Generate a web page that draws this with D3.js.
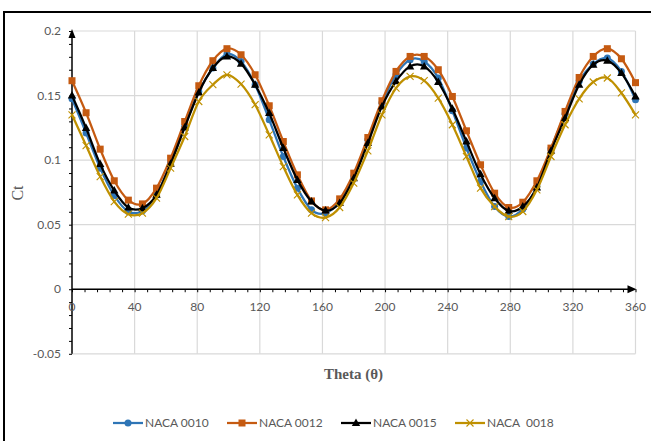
<!DOCTYPE html>
<html>
<head>
<meta charset="utf-8">
<script src="https://cdn.jsdelivr.net/npm/d3@7"></script>
<style>
  html, body { margin: 0; padding: 0; background: #ffffff; }
  svg { display: block; }
</style>
</head>
<body>
<svg id="chart" width="651" height="441"></svg>
<script>
// ---------- data ----------
const theta = [0, 9, 18, 27, 36, 45, 54, 63, 72, 81, 90, 99, 108, 117, 126, 135, 144, 153, 162, 171,
               180, 189, 198, 207, 216, 225, 234, 243, 252, 261, 270, 279, 288, 297, 306, 315, 324, 333, 342, 351, 360];

const naca0010 = [0.1475, 0.1210, 0.0938, 0.0726, 0.0602, 0.0607, 0.0730, 0.0977, 0.1260, 0.1532,
                  0.1713, 0.1822, 0.1764, 0.1584, 0.1312, 0.1028, 0.0783, 0.0615, 0.0589, 0.0680,
                  0.0873, 0.1157, 0.1442, 0.1661, 0.1778, 0.1764, 0.1636, 0.1382, 0.1093, 0.0834,
                  0.0640, 0.0563, 0.0622, 0.0795, 0.1088, 0.1357, 0.1610, 0.1744, 0.1790, 0.1687, 0.1467];

const naca0012 = [0.1615, 0.1367, 0.1085, 0.0840, 0.0690, 0.0661, 0.0783, 0.1015, 0.1299, 0.1576,
                  0.1770, 0.1863, 0.1816, 0.1661, 0.1421, 0.1144, 0.0886, 0.0684, 0.0615, 0.0700,
                  0.0899, 0.1175, 0.1460, 0.1687, 0.1803, 0.1803, 0.1700, 0.1493, 0.1227, 0.0964,
                  0.0744, 0.0633, 0.0674, 0.0840, 0.1093, 0.1377, 0.1640, 0.1803, 0.1863, 0.1785, 0.1600];

const naca0015 = [0.1500, 0.1248, 0.0969, 0.0764, 0.0633, 0.0628, 0.0731, 0.0971, 0.1253, 0.1524,
                  0.1713, 0.1803, 0.1747, 0.1584, 0.1364, 0.1093, 0.0847, 0.0679, 0.0609, 0.0667,
                  0.0860, 0.1132, 0.1416, 0.1610, 0.1726, 0.1726, 0.1605, 0.1398, 0.1144, 0.0891,
                  0.0705, 0.0607, 0.0640, 0.0788, 0.1072, 0.1326, 0.1584, 0.1739, 0.1770, 0.1674, 0.1493];

const naca0018 = [0.1351, 0.1113, 0.0873, 0.0679, 0.0581, 0.0589, 0.0705, 0.0938, 0.1183, 0.1454,
                  0.1584, 0.1661, 0.1589, 0.1429, 0.1196, 0.0950, 0.0731, 0.0589, 0.0555, 0.0633,
                  0.0822, 0.1072, 0.1351, 0.1558, 0.1648, 0.1615, 0.1480, 0.1274, 0.1028, 0.0783,
                  0.0640, 0.0563, 0.0602, 0.0770, 0.1028, 0.1274, 0.1475, 0.1605, 0.1636, 0.1520, 0.1351];

const seriesNames = ["NACA 0010", "NACA 0012", "NACA 0015", "NACA  0018"];
const xTicks = [0, 40, 80, 120, 160, 200, 240, 280, 320, 360];
const yTicks = [-0.05, 0, 0.05, 0.1, 0.15, 0.2];
const yTickLabels = ["-0.05", "0", "0.05", "0.1", "0.15", "0.2"];
const xTitle = "Theta (θ)";
const yTitle = "Ct";

// ---------- styles ----------
const colors = ["#2E75B6", "#C55A11", "#000000", "#BF9000"];
const markerTypes = ["circle", "square", "triangle", "cross"];
const labelFont = "Lato, 'Liberation Sans', sans-serif";
const serifFont = "'Liberation Serif', 'DejaVu Serif', serif";
const textGrey = "#595959";

const svg = d3.select("#chart");

// outer border (chart area edge)
svg.append("rect")
  .attr("x", 4).attr("y", 12)
  .attr("width", 660).attr("height", 440)
  .attr("fill", "none").attr("stroke", "#000").attr("stroke-width", 2);

const x = d3.scaleLinear().domain([0, 360]).range([72, 635.5]);
const y = d3.scaleLinear().domain([-0.05, 0.2]).range([353.8, 31]);

// gridlines
const grid = svg.append("g");
grid.selectAll("line.v").data(xTicks.filter(d => d > 0)).enter().append("line")
  .attr("x1", d => x(d)).attr("x2", d => x(d))
  .attr("y1", y(0.2)).attr("y2", y(-0.05))
  .attr("stroke", "#d9d9d9").attr("stroke-width", 1.2);
grid.selectAll("line.h").data(yTicks).enter().append("line")
  .attr("x1", x(0)).attr("x2", x(360))
  .attr("y1", d => y(d)).attr("y2", d => y(d))
  .attr("stroke", "#d9d9d9").attr("stroke-width", 1.2);

// y axis (vertical line at x=0) with minor ticks
const yAxis = d3.axisLeft(y).tickValues(d3.range(-5, 21).map(i => i / 100)).tickSize(3).tickFormat("");
const gy = svg.append("g").attr("transform", `translate(${x(0)},0)`).call(yAxis);
gy.select(".domain").remove();
gy.selectAll(".tick line").attr("stroke", "#000").attr("stroke-width", 1);
svg.append("line")
  .attr("x1", x(0)).attr("x2", x(0))
  .attr("y1", y(-0.05)).attr("y2", y(0.2) + 2)
  .attr("stroke", "#000").attr("stroke-width", 1.5);
// arrow on y axis
svg.append("path")
  .attr("d", `M${x(0)},${y(0.2) - 2} L${x(0) - 3.5},${y(0.2) + 7} L${x(0) + 3.5},${y(0.2) + 7} Z`)
  .attr("fill", "#000");

// y tick labels
svg.append("g").selectAll("text").data(yTicks).enter().append("text")
  .attr("x", 61).attr("y", d => y(d) + 4)
  .attr("text-anchor", "end")
  .attr("font-family", labelFont).attr("font-size", 12)
  .attr("fill", textGrey)
  .text((d, i) => yTickLabels[i]);

// x axis (horizontal line at y=0) with minor ticks
const xAxis = d3.axisBottom(x).tickValues(d3.range(0, 46).map(i => i * 8)).tickSize(3).tickFormat("");
const gx = svg.append("g").attr("transform", `translate(0,${y(0)})`).call(xAxis);
gx.select(".domain").remove();
gx.selectAll(".tick line").attr("stroke", "#000").attr("stroke-width", 1);
svg.append("line")
  .attr("x1", x(0)).attr("x2", x(360) - 4)
  .attr("y1", y(0)).attr("y2", y(0))
  .attr("stroke", "#000").attr("stroke-width", 1.5);
svg.append("path")
  .attr("d", `M${x(360) + 1},${y(0)} L${x(360) - 8},${y(0) - 4} L${x(360) - 8},${y(0) + 4} Z`)
  .attr("fill", "#000");

// x tick labels
svg.append("g").selectAll("text").data(xTicks).enter().append("text")
  .attr("x", d => x(d)).attr("y", y(0) + 22)
  .attr("text-anchor", "middle")
  .attr("font-family", labelFont).attr("font-size", 12)
  .attr("fill", textGrey)
  .text(d => d);

// axis titles
svg.append("text")
  .attr("x", 353.5).attr("y", 379)
  .attr("text-anchor", "middle")
  .attr("font-family", serifFont).attr("font-size", 15).attr("font-weight", "bold")
  .attr("fill", textGrey)
  .text(xTitle);
svg.append("text")
  .attr("transform", "translate(23,193) rotate(-90)")
  .attr("text-anchor", "middle")
  .attr("font-family", serifFont).attr("font-size", 16)
  .attr("fill", textGrey)
  .text(yTitle);

// marker drawing
function drawMarker(g, type, cx, cy, color) {
  if (type === "circle") {
    g.append("circle").attr("cx", cx).attr("cy", cy).attr("r", 3.5).attr("fill", color);
  } else if (type === "square") {
    g.append("rect").attr("x", cx - 3.5).attr("y", cy - 3.5).attr("width", 7).attr("height", 7).attr("fill", color);
  } else if (type === "triangle") {
    g.append("path").attr("d", `M${cx},${cy - 4.5} L${cx + 4.2},${cy + 3} L${cx - 4.2},${cy + 3} Z`).attr("fill", color);
  } else {
    g.append("path").attr("d", `M${cx - 3.5},${cy - 3.5} L${cx + 3.5},${cy + 3.5} M${cx - 3.5},${cy + 3.5} L${cx + 3.5},${cy - 3.5}`)
      .attr("stroke", color).attr("stroke-width", 1.1).attr("fill", "none");
  }
}

// series
const allSeries = [naca0010, naca0012, naca0015, naca0018];
const line = d3.line().x(d => x(d[0])).y(d => y(d[1])).curve(d3.curveCardinal.tension(0));
allSeries.forEach((vals, si) => {
  const pts = theta.map((t, i) => [t, vals[i]]);
  const g = svg.append("g");
  g.append("path").datum(pts)
    .attr("d", line)
    .attr("fill", "none").attr("stroke", colors[si]).attr("stroke-width", 2.25)
    .attr("stroke-linejoin", "round");
  pts.forEach(p => drawMarker(g, markerTypes[si], x(p[0]), y(p[1]), colors[si]));
});

// legend
const legendX = [113, 227, 341, 455];
const legendY = 423;
seriesNames.forEach((name, i) => {
  const g = svg.append("g");
  g.append("line")
    .attr("x1", legendX[i]).attr("x2", legendX[i] + 30)
    .attr("y1", legendY).attr("y2", legendY)
    .attr("stroke", colors[i]).attr("stroke-width", 2.25);
  drawMarker(g, markerTypes[i], legendX[i] + 15, legendY, colors[i]);
  g.append("text")
    .attr("x", legendX[i] + 32).attr("y", legendY + 4)
    .attr("font-family", labelFont).attr("font-size", 12)
    .attr("fill", textGrey)
    .attr("xml:space", "preserve")
    .style("white-space", "pre")
    .text(name);
});
</script>
</body>
</html>
